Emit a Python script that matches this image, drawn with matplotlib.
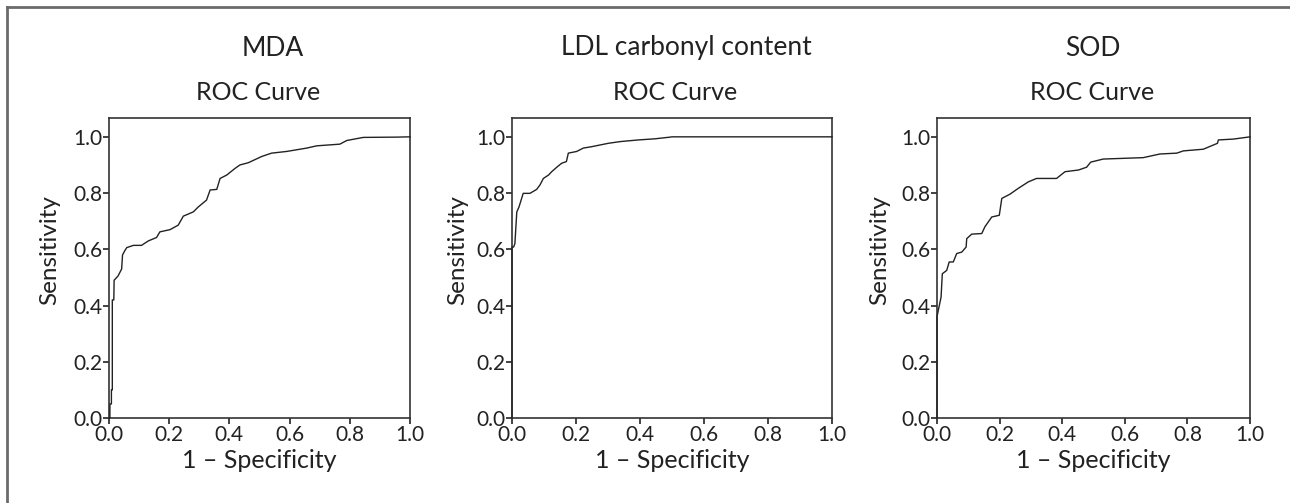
import matplotlib
matplotlib.use("Agg")
from matplotlib import pyplot as plt
from matplotlib.lines import Line2D

plt.rcParams['font.family'] = ['Lato', 'DejaVu Sans']

# ROC curves (1 - specificity, sensitivity)
mda_fpr = [0, 0.003, 0.003, 0.008, 0.008, 0.011, 0.011, 0.016, 0.017, 0.03, 0.042, 0.045,
           0.053, 0.059, 0.07, 0.081, 0.108, 0.131, 0.158, 0.169, 0.203, 0.23, 0.247,
           0.28, 0.297, 0.324, 0.336, 0.358, 0.369, 0.391, 0.419, 0.435, 0.463, 0.507,
           0.54, 0.59, 0.657, 0.69, 0.767, 0.79, 0.845, 0.956, 1.0]
mda_tpr = [0, 0, 0.05, 0.05, 0.10, 0.10, 0.42, 0.42, 0.49, 0.505, 0.53, 0.58,
           0.596, 0.606, 0.61, 0.614, 0.614, 0.63, 0.642, 0.662, 0.67, 0.686, 0.718,
           0.733, 0.751, 0.775, 0.811, 0.813, 0.852, 0.864, 0.888, 0.9, 0.908, 0.93,
           0.942, 0.948, 0.96, 0.968, 0.974, 0.987, 0.998, 0.999, 1.0]

ldl_fpr = [0, 0, 0.005, 0.009, 0.015, 0.022, 0.035, 0.056, 0.077, 0.0875, 0.098, 0.114,
           0.124, 0.14, 0.155, 0.17, 0.176, 0.202, 0.223, 0.249, 0.301, 0.3375, 0.395,
           0.447, 0.494, 0.5, 1.0]
ldl_tpr = [0, 0.608, 0.608, 0.62, 0.733, 0.751, 0.799, 0.799, 0.813, 0.829, 0.852, 0.864,
           0.876, 0.892, 0.906, 0.912, 0.942, 0.948, 0.96, 0.965, 0.977, 0.983, 0.989,
           0.993, 0.999, 1.0, 1.0]

sod_fpr = [0, 0, 0.004, 0.013, 0.017, 0.031, 0.039, 0.052, 0.063, 0.079, 0.093, 0.095,
           0.111, 0.143, 0.153, 0.175, 0.199, 0.207, 0.233, 0.26, 0.292, 0.318, 0.382,
           0.409, 0.452, 0.478, 0.491, 0.531, 0.659, 0.712, 0.766, 0.787, 0.851, 0.896,
           0.899, 0.947, 1.0]
sod_tpr = [0, 0.36, 0.382, 0.43, 0.513, 0.525, 0.555, 0.555, 0.585, 0.59, 0.608, 0.638,
           0.654, 0.656, 0.68, 0.715, 0.721, 0.781, 0.796, 0.817, 0.84, 0.852, 0.852,
           0.876, 0.882, 0.892, 0.91, 0.921, 0.926, 0.939, 0.942, 0.95, 0.956, 0.977,
           0.989, 0.992, 1.0]

titles = ["MDA", "LDL carbonyl content", "SOD"]
ticks = [0.0, 0.2, 0.4, 0.6, 0.8, 1.0]
tick_labels = ["0.0", "0.2", "0.4", "0.6", "0.8", "1.0"]

W, H = 1290, 503
# axes boxes in pixels: left, right, top, bottom
boxes = [(109, 410, 118, 418), (512, 832, 118, 418), (937, 1250, 118, 418)]
title_x = [273, 686, 1093]
roc_x = [258, 675, 1092]
ylab_x = [-0.163, -0.1375, -0.15]

fig = plt.figure(figsize=(W / 100, H / 100), dpi=100)

# outer frame (left and top only)
fig.add_artist(Line2D([7 / W, 7 / W], [0, 1 - 7 / H], transform=fig.transFigure,
                      color="#6b6b6b", lw=2))
fig.add_artist(Line2D([7 / W, 1], [1 - 7 / H, 1 - 7 / H], transform=fig.transFigure,
                      color="#6b6b6b", lw=2))

curves = [(mda_fpr, mda_tpr), (ldl_fpr, ldl_tpr), (sod_fpr, sod_tpr)]

for i, (fpr, tpr) in enumerate(curves):
    l, r, t, b = boxes[i]
    ax = fig.add_axes([l / W, 1 - b / H, (r - l) / W, (b - t) / H])
    ax.plot(fpr, tpr, color="#222222", lw=1.0, clip_on=False, zorder=3)
    ax.set_xlim(0, 1)
    ax.set_ylim(0, 1.067)
    ax.set_xticks(ticks)
    ax.set_xticklabels(tick_labels)
    ax.set_yticks(ticks)
    ax.set_yticklabels(tick_labels)
    ax.tick_params(length=4, width=1.2, pad=1, labelsize=15, colors="#222222")
    for s in ax.spines.values():
        s.set_color("#333333")
        s.set_linewidth(1.2)
    ax.set_xlabel("1 – Specificity", fontsize=18, color="#222222")
    ax.set_ylabel("Sensitivity", fontsize=17.5, color="#222222")
    ax.xaxis.set_label_coords(0.5, -0.103)
    ax.yaxis.set_label_coords(ylab_x[i], 0.56)
    fig.text(title_x[i] / W, 1 - 48 / H, titles[i], fontsize=19, ha="center", va="center",
             color="#222222")
    fig.text(roc_x[i] / W, 1 - 92 / H, "ROC Curve", fontsize=18, ha="center", va="center",
             color="#222222")

fig.savefig("out.png", dpi=100)
